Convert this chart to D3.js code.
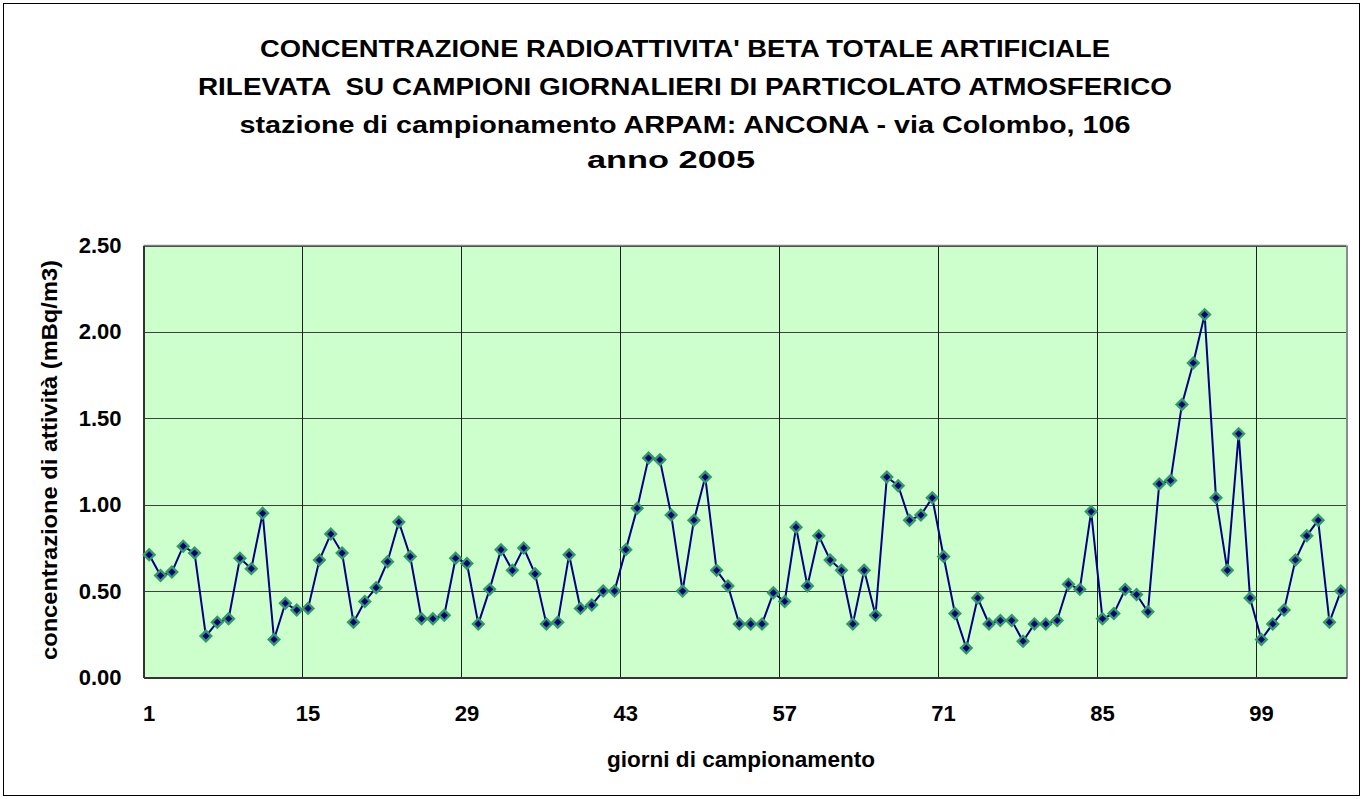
<!DOCTYPE html>
<html>
<head>
<meta charset="utf-8">
<title>Radioattivita beta</title>
<style>
  body, html { margin: 0; padding: 0; background: #fff; }
  svg text { font-family: "Liberation Sans", Arial, sans-serif; font-weight: bold; fill: #000; }
</style>
</head>
<body>
<svg id="svg" width="1370" height="799"></svg>
<script src="https://d3js.org/d3.v7.min.js"></script>
<script>
  // giorni di campionamento 1..106
  const days = d3.range(1, 107)
  const tickDays = [1, 15, 29, 43, 57, 71, 85, 99]
  const yTicks = [0, 0.5, 1, 1.5, 2, 2.5]

  // concentrazione (mBq/m3)
  const values = [
    0.71, 0.59, 0.61, 0.76, 0.72, 0.24, 0.32, 0.34, 0.69, 0.63,
    0.95, 0.22, 0.43, 0.39, 0.40, 0.68, 0.83, 0.72, 0.32, 0.44,
    0.52, 0.67, 0.90, 0.70, 0.34, 0.34, 0.36, 0.69, 0.66, 0.31,
    0.51, 0.74, 0.62, 0.75, 0.60, 0.31, 0.32, 0.71, 0.40, 0.42,
    0.50, 0.50, 0.74, 0.98, 1.27, 1.26, 0.94, 0.50, 0.91, 1.16,
    0.62, 0.53, 0.31, 0.31, 0.31, 0.49, 0.44, 0.87, 0.53, 0.82,
    0.68, 0.62, 0.31, 0.62, 0.36, 1.16, 1.11, 0.91, 0.94, 1.04,
    0.70, 0.37, 0.17, 0.46, 0.31, 0.33, 0.33, 0.21, 0.31, 0.31,
    0.33, 0.54, 0.51, 0.96, 0.34, 0.37, 0.51, 0.48, 0.38, 1.12,
    1.14, 1.58, 1.82, 2.10, 1.04, 0.62, 1.41, 0.46, 0.22, 0.31,
    0.39, 0.68, 0.82, 0.91, 0.32, 0.50
  ]

  const titleLines = [
    "CONCENTRAZIONE RADIOATTIVITA' BETA TOTALE ARTIFICIALE",
    "RILEVATA  SU CAMPIONI GIORNALIERI DI PARTICOLATO ATMOSFERICO",
    "stazione di campionamento ARPAM: ANCONA - via Colombo, 106",
    "anno 2005"
  ]
  const xTitle = "giorni di campionamento"
  const yTitle = "concentrazione di attività (mBq/m3)"

  const data = days.map((d, i) => ({ day: d, value: values[i] }))

  const plotL = 143.5, plotR = 1346.5, plotT = 245.5, plotB = 677.5

  const svg = d3.select('#svg')

  // outer chart border
  svg.append('rect')
    .attr('x', 3.5).attr('y', 3.5)
    .attr('width', 1356).attr('height', 792)
    .attr('fill', '#fff')
    .attr('stroke', '#000')
    .attr('stroke-width', 1)

  const x = d3.scaleBand()
    .domain(days)
    .range([plotL, plotR])
    .padding(0)
  const cx = d => x(d) + x.bandwidth() / 2

  const y = d3.scaleLinear()
    .domain([0, 2.5])
    .range([plotB, plotT])

  // plot area
  svg.append('rect')
    .attr('x', plotL).attr('y', plotT)
    .attr('width', plotR - plotL).attr('height', plotB - plotT)
    .attr('fill', '#ccffcc')

  // horizontal gridlines
  svg.append('g')
    .selectAll('line')
    .data(yTicks.slice(1))
    .join('line')
    .attr('x1', plotL).attr('x2', plotR)
    .attr('y1', d => Math.round(y(d)) + 0.5)
    .attr('y2', d => Math.round(y(d)) + 0.5)
    .attr('stroke', '#404040')
    .attr('stroke-width', 1.2)

  // vertical gridlines between categories
  svg.append('g')
    .selectAll('line')
    .data(tickDays.slice(1))
    .join('line')
    .attr('x1', d => Math.round(x(d)) + 0.5)
    .attr('x2', d => Math.round(x(d)) + 0.5)
    .attr('y1', plotT).attr('y2', plotB)
    .attr('stroke', '#202020')
    .attr('stroke-width', 1)

  // plot frame: grey top/right, dark axes
  svg.append('line')
    .attr('x1', plotL).attr('x2', plotR).attr('y1', plotT).attr('y2', plotT)
    .attr('stroke', '#808080').attr('stroke-width', 1.5)
  svg.append('line')
    .attr('x1', plotR + 0.5).attr('x2', plotR + 0.5).attr('y1', plotT).attr('y2', plotB + 1)
    .attr('stroke', '#8c8c8c').attr('stroke-width', 2)

  // axes
  const yAxis = d3.axisLeft(y)
    .tickValues(yTicks)
    .tickFormat(d3.format('.2f'))
    .tickSize(0)
    .tickPadding(22)
  const gy = svg.append('g')
    .attr('transform', `translate(${plotL},0)`)
    .call(yAxis)
  gy.select('.domain').attr('stroke', '#333').attr('stroke-width', 2)
  gy.selectAll('text')
    .attr('font-size', 22)
    .style('font-family', '"Liberation Sans", Arial, sans-serif')
    .style('font-weight', 'bold')

  const xAxis = d3.axisBottom(x)
    .tickValues(tickDays)
    .tickSize(0)
    .tickPadding(28)
  const gx = svg.append('g')
    .attr('transform', `translate(0,${plotB})`)
    .call(xAxis)
  gx.select('.domain').attr('stroke', '#333').attr('stroke-width', 2)
  gx.selectAll('text')
    .attr('font-size', 22)
    .style('font-family', '"Liberation Sans", Arial, sans-serif')
    .style('font-weight', 'bold')

  // series line
  const line = d3.line()
    .x(d => cx(d.day))
    .y(d => y(d.value))
  svg.append('path')
    .datum(data)
    .attr('d', line)
    .attr('fill', 'none')
    .attr('stroke', '#000080')
    .attr('stroke-width', 2)

  // diamond markers
  svg.append('g')
    .selectAll('path')
    .data(data)
    .join('path')
    .attr('d', d3.symbol(d3.symbolSquare, 56))
    .attr('transform', d => `translate(${cx(d.day)},${y(d.value)}) rotate(45)`)
    .attr('fill', '#000080')
    .attr('stroke', '#339966')
    .attr('stroke-width', 2.4)

  // titles (widths matched to the original rendering)
  const titleY = [57, 95, 133, 168]
  const titleW = [850, 974, 891, 168]
  svg.append('g')
    .selectAll('text')
    .data(titleLines)
    .join('text')
    .attr('x', (d, i) => i === 3 ? 671 : 685)
    .attr('y', (d, i) => titleY[i])
    .attr('text-anchor', 'middle')
    .attr('font-size', 23)
    .attr('textLength', (d, i) => titleW[i])
    .attr('lengthAdjust', 'spacingAndGlyphs')
    .style('white-space', 'pre')
    .text(d => d)

  svg.append('text')
    .attr('x', 741)
    .attr('y', 767)
    .attr('text-anchor', 'middle')
    .attr('font-size', 22)
    .attr('textLength', 268)
    .attr('lengthAdjust', 'spacingAndGlyphs')
    .text(xTitle)

  svg.append('text')
    .attr('transform', 'translate(57,460) rotate(-90)')
    .attr('text-anchor', 'middle')
    .attr('font-size', 22)
    .attr('textLength', 400)
    .attr('lengthAdjust', 'spacingAndGlyphs')
    .text(yTitle)
</script>
</body>
</html>
